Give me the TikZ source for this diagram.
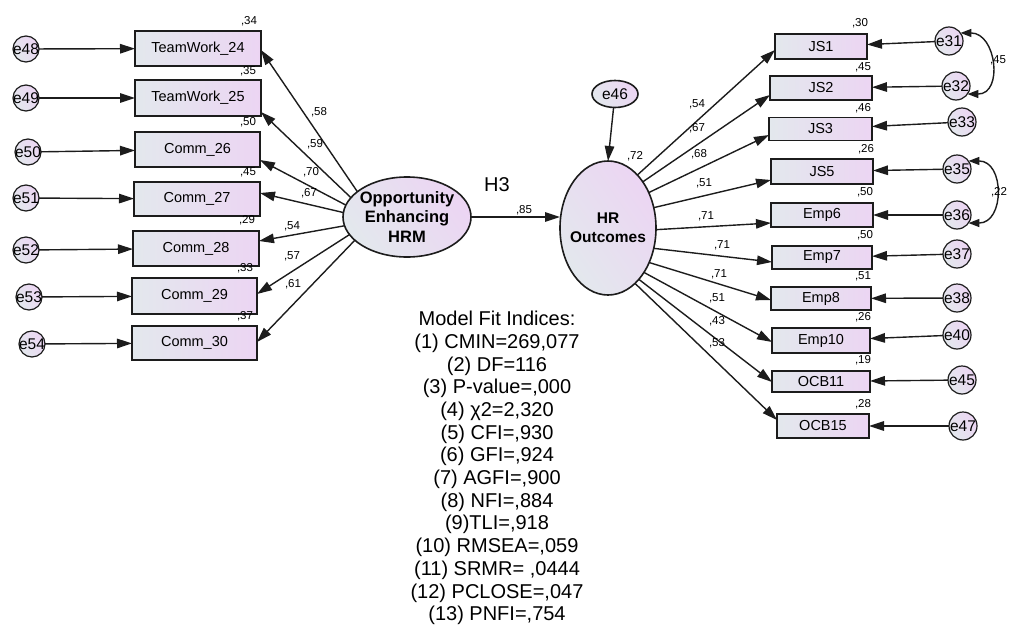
\documentclass[tikz,border=0pt]{standalone}
\usepackage{fontspec}
\setmainfont{Liberation Sans}
\usetikzlibrary{shapes.geometric,arrows.meta}
\definecolor{gb}{RGB}{227,232,237}
\definecolor{lav}{RGB}{236,213,243}
\definecolor{ink}{RGB}{28,28,28}
\begin{document}
\begin{tikzpicture}[x=1pt,y=-1pt,
  every node/.style={inner sep=0pt, outer sep=0pt},
  boxfont/.style={font=\fontsize{14.5}{17}\selectfont},
  obs/.style 2 args={rectangle, draw=ink, line width=1.8pt, left color=gb, right color=lav,
    minimum width=#1, minimum height=#2, boxfont},
  errc/.style={circle, draw=ink, line width=1.2pt, left color=gb, right color=lav, shading angle=120,
    minimum size=#1},
  errc/.default=27,
  elab/.style={font=\fontsize{15.5}{17}\selectfont},
  lat/.style={ellipse, draw=ink, line width=1.6pt, left color=gb, right color=lav, shading angle=125},
  num/.style={font=\fontsize{11.5}{13}\selectfont},
  path/.style={draw=ink, line width=1.4pt, -{Triangle[length=15pt,width=9.5pt]}},
  cov/.style={draw=ink, line width=1.4pt, {Triangle[length=11pt,width=8pt]}-{Triangle[length=11pt,width=8pt]}},
]
\useasboundingbox (0,0) rectangle (1013,632);

% latent variables
\node[lat, minimum width=128, minimum height=80,
  label={[align=center,font=\bfseries\fontsize{16.5}{19.5}\selectfont]center:Opportunity\\Enhancing\\HRM}] (opp) at (407,217) {};
\node[lat, minimum width=96, minimum height=134,
  label={[align=center,font=\bfseries\fontsize{15.5}{19}\selectfont]center:HR\\Outcomes}] (hr) at (608,228) {};
\node[lat, minimum width=46, minimum height=27, label={[elab]center:e46}] (e46) at (615,94) {};

% left indicators
\node[obs={126}{35}] (tw24) at (198,48.5) {TeamWork\_24};
\node[obs={126}{36}] (tw25) at (198,98) {TeamWork\_25};
\node[obs={125}{35}] (c26) at (197.5,149.5) {Comm\_26};
\node[obs={126}{34}] (c27) at (197,199) {Comm\_27};
\node[obs={126}{35}] (c28) at (196,248.5) {Comm\_28};
\node[obs={125}{36}] (c29) at (194.5,296) {Comm\_29};
\node[obs={125}{34}] (c30) at (194.5,343) {Comm\_30};

% left error terms
\node[errc=26, label={[elab]center:e48}] (e48) at (26,49) {};
\node[errc=26, label={[elab]center:e49}] (e49) at (26,98) {};
\node[errc=26, label={[elab]center:e50}] (e50) at (28,152) {};
\node[errc=26, label={[elab]center:e51}] (e51) at (26,198) {};
\node[errc=26, label={[elab]center:e52}] (e52) at (26,250) {};
\node[errc=26, label={[elab]center:e53}] (e53) at (29,297) {};
\node[errc=26, label={[elab]center:e54}] (e54) at (32,344) {};

% right indicators
\node[obs={92}{25}] (js1) at (821,46.5) {JS1};
\node[obs={102}{24}] (js2) at (821,88) {JS2};
\node[obs={103}{23}] (js3) at (820.5,129) {JS3};
\node[obs={102}{25}] (js5) at (822,171.5) {JS5};
\node[obs={102}{24}] (emp6) at (822,215) {Emp6};
\node[obs={100}{23}] (emp7) at (822,257.5) {Emp7};
\node[obs={100}{23}] (emp8) at (821,298.5) {Emp8};
\node[obs={98}{25}] (emp10) at (821,340.5) {Emp10};
\node[obs={98}{21}] (ocb11) at (821,381.5) {OCB11};
\node[obs={92}{24}] (ocb15) at (823,426) {OCB15};

% right error terms
\node[errc=28, label={[elab]center:e31}] (e31) at (949,41) {};
\node[errc=28, label={[elab]center:e32}] (e32) at (956,86) {};
\node[errc=28, label={[elab]center:e33}] (e33) at (962,122) {};
\node[errc=28, label={[elab]center:e35}] (e35) at (957,169) {};
\node[errc=28, label={[elab]center:e36}] (e36) at (957,215) {};
\node[errc=28, label={[elab]center:e37}] (e37) at (957,254) {};
\node[errc=28, label={[elab]center:e38}] (e38) at (957,298) {};
\node[errc=28, label={[elab]center:e40}] (e40) at (957,335) {};
\node[errc=28, label={[elab]center:e45}] (e45) at (962,380) {};
\node[errc=28, label={[elab]center:e47}] (e47) at (963,426) {};

% loadings of Opportunity Enhancing HRM
\draw[path] (opp.153) -- ([yshift=-1.5]tw24.east);
\draw[path] (opp.161) -- ([yshift=-14]tw25.east);
\draw[path] (opp.169) -- ([yshift=-10.5]c26.east);
\draw[path] (opp.176) -- ([yshift=6]c27.east);
\draw[path] (opp.188) -- ([yshift=7.5]c28.east);
\draw[path] (opp.197) -- ([yshift=2]c29.east);
\draw[path] (opp.204) -- ([yshift=1]c30.east);

% left error paths
\foreach \e/\b in {e48/tw24,e49/tw25,e50/c26,e51/c27,e52/c28,e53/c29,e54/c30}
  \draw[path] (\e) -- (\b);

% structural path and disturbance
\draw[path] (opp.east) -- (hr.west |- opp.east);
\draw[path] (e46) -- (hr.north);

% loadings of HR Outcomes
\draw[path] (hr.61) -- ([yshift=-3.5]js1.west);
\draw[path] (hr.53) -- ([yshift=-7]js2.west);
\draw[path] (hr.41) -- ([yshift=-6]js3.west);
\draw[path] (hr.24) -- ([yshift=-8.5]js5.west);
\draw[path] (hr.-2) -- ([yshift=-8]emp6.west);
\draw[path] (hr.-24) -- ([yshift=-4.5]emp7.west);
\draw[path] (hr.-40) -- ([yshift=-1.5]emp8.west);
\draw[path] (hr.-51) -- ([yshift=-1.5]emp10.west);
\draw[path] (hr.-59) -- ([yshift=-0.5]ocb11.west);
\draw[path] (hr.-64) -- ([yshift=6]ocb15.west);

% right error paths
\foreach \e/\b in {e31/js1,e32/js2,e33/js3,e35/js5,e36/emp6,e37/emp7,e38/emp8,e40/emp10,e45/ocb11,e47/ocb15}
  \draw[path] (\e) -- (\b);

% error covariances
\draw[cov] (e31.35) to[out=0,in=0,looseness=1.5] (e32.-35);
\draw[cov] (e35.35) to[out=0,in=0,looseness=1.5] (e36.-35);
\node[num] (k45) at (998,60) {,45};
\node[num] (k22) at (999,192) {,22};

% squared multiple correlations, left
\node[num] (r24) at (249,21) {,34};
\node[num] (r25) at (248,71) {,35};
\node[num] (r26) at (248,122) {,50};
\node[num] (r27) at (248,172) {,45};
\node[num] (r28) at (247,220) {,29};
\node[num] (r29) at (245,268) {,33};
\node[num] (r30) at (245,316) {,37};

% standardized loadings, left
\node[num] (l24) at (319,112) {,58};
\node[num] (l25) at (315,144) {,59};
\node[num] (l26) at (311,172) {,70};
\node[num] (l27) at (309,193) {,67};
\node[num] (l28) at (292,226) {,54};
\node[num] (l29) at (292,256) {,57};
\node[num] (l30) at (293,284) {,61};

% squared multiple correlations, right
\node[num] (rj1) at (860,23) {,30};
\node[num] (rj2) at (863,67) {,45};
\node[num] (rj3) at (863,108) {,46};
\node[num] (rj5) at (866,149) {,26};
\node[num] (re6) at (865,192) {,50};
\node[num] (re7) at (865,235) {,50};
\node[num] (re8) at (863,276) {,51};
\node[num] (re10) at (863,317) {,26};
\node[num] (ro11) at (863,360) {,19};
\node[num] (ro15) at (863,404) {,28};

% standardized loadings, right
\node[num] (lj1) at (697,104) {,54};
\node[num] (lj2) at (697,128) {,67};
\node[num] (lj3) at (699,154) {,68};
\node[num] (lj5) at (704,183) {,51};
\node[num] (le6) at (706,216) {,71};
\node[num] (le7) at (722,245) {,71};
\node[num] (le8) at (719,274) {,71};
\node[num] (le10) at (717,298) {,51};
\node[num] (lo11) at (717,321) {,43};
\node[num] (lo15) at (717,343) {,53};

% structural coefficient
\node[num] (rhr) at (635,156) {,72};
\node[num] (b85) at (524,210) {,85};
\node[font=\fontsize{20}{22}\selectfont] (h3) at (497,185) {H3};

% fit indices
\node[align=center, font=\fontsize{20}{22.7}\selectfont] (fit) at (497,468) {Model Fit Indices:\\
(1) CMIN=269,077\\
(2) DF=116\\
(3) P-value=,000\\
(4) χ2=2,320\\
(5) CFI=,930\\
(6) GFI=,924\\
(7) AGFI=,900\\
(8) NFI=,884\\
(9)TLI=,918\\
(10) RMSEA=,059\\
(11) SRMR= ,0444\\
(12) PCLOSE=,047\\
(13) PNFI=,754};
\end{tikzpicture}
\end{document}
